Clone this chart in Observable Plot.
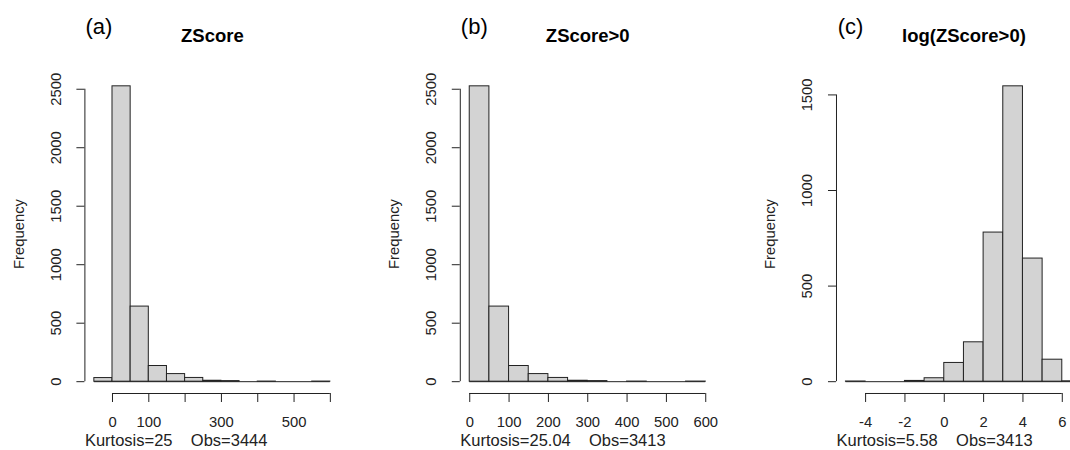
<!DOCTYPE html>
<html><head><meta charset="utf-8">
<script src="https://cdn.jsdelivr.net/npm/d3@7"></script>
<script src="https://cdn.jsdelivr.net/npm/@observablehq/plot@0.6"></script>
<style>
html,body{margin:0;padding:0;background:#fff;overflow:hidden;width:1070px;height:450px}
#wrap{position:relative;width:1070px;height:450px;overflow:hidden;background:#fff}
.panel{position:absolute;top:0}
.panel svg{max-width:none !important;display:block}
</style></head><body><div id="wrap"></div>
<script>
// ---- data ----
const panelLetters = ["(a)", "(b)", "(c)"];
const panelTitles = ["ZScore", "ZScore>0", "log(ZScore>0)"];
const kurtosis = ["25", "25.04", "5.58"];
const obs = [3444, 3413, 3413];

const breaksA = [-50, 0, 50, 100, 150, 200, 250, 300, 350, 400, 450, 500, 550, 600];
const countsA = [31, 2525, 642, 134, 65, 32, 8, 5, 0, 1, 0, 0, 1];
const breaksB = [0, 50, 100, 150, 200, 250, 300, 350, 400, 450, 500, 550, 600];
const countsB = [2525, 642, 134, 65, 32, 8, 5, 0, 1, 0, 0, 1];
const breaksC = [-5, -4, -3, -2, -1, 0, 1, 2, 3, 4, 5, 6, 7];
const countsC = [1, 0, 0, 4, 18, 98, 206, 780, 1545, 644, 115, 2];

const yTicksAB = [0, 500, 1000, 1500, 2000, 2500];
const yTicksC = [0, 500, 1000, 1500];
const xTicksA = [0, 100, 200, 300, 400, 500, 600];
const xLabelsA = ["0", "100", "", "300", "", "500", ""];
const xTicksB = [0, 100, 200, 300, 400, 500, 600];
const xLabelsB = ["0", "100", "200", "300", "400", "500", "600"];
const xTicksC = [-4, -2, 0, 2, 4, 6];
const xLabelsC = ["-4", "-2", "0", "2", "4", "6"];

// ---- layout ----
const panels = [
  {breaks: breaksA, counts: countsA, yTicks: yTicksAB, xTicks: xTicksA, xLabels: xLabelsA, left: 0, marginLeft: 84.4, marginRight: 20.7},
  {breaks: breaksB, counts: countsB, yTicks: yTicksAB, xTicks: xTicksB, xLabels: xLabelsB, left: 360, marginLeft: 99.8, marginRight: 5},
  {breaks: breaksC, counts: countsC, yTicks: yTicksC, xTicks: xTicksC, xLabels: xLabelsC, left: 720, marginLeft: 116, marginRight: 5}
];
const plotW = 254.9;
const ink = "#222";
const font = "'Liberation Sans', Arial, sans-serif";

const wrap = document.getElementById("wrap");
panels.forEach((p, k) => {
  const bins = p.counts.map((c, i) => ({x1: p.breaks[i], x2: p.breaks[i + 1], count: c}));
  const b0 = p.breaks[0], bN = p.breaks[p.breaks.length - 1];
  const r = bN - b0;
  const xDom = [b0 - 0.04 * r, bN + 0.04 * r];
  const ymax = d3.max(p.counts);
  const yDom = [-0.04 * ymax, 1.04 * ymax];
  const labelMap = new Map(p.xTicks.map((t, i) => [t, p.xLabels[i]]));
  const caption = `Kurtosis=${kurtosis[k]}\u00a0\u00a0\u00a0\u00a0Obs=${obs[k]}`;
  const W = p.marginLeft + plotW + p.marginRight;

  const svg = Plot.plot({
    width: W,
    height: 450,
    marginLeft: p.marginLeft,
    marginRight: p.marginRight,
    marginTop: 74,
    marginBottom: 57,
    x: {domain: xDom},
    y: {domain: yDom},
    style: {fontFamily: font, background: "transparent", overflow: "visible", color: ink, maxWidth: "none"},
    marks: [
      Plot.rectY(bins, {x1: "x1", x2: "x2", y1: () => 0, y2: "count", fill: "#d3d3d3", stroke: ink, strokeWidth: 1, inset: 0}),
      Plot.ruleY([0], {x1: () => b0, x2: () => bN, stroke: ink, strokeWidth: 1}),
      Plot.ruleX([xDom[0]], {y1: () => p.yTicks[0], y2: () => p.yTicks[p.yTicks.length - 1], stroke: ink, strokeWidth: 1}),
      Plot.ruleY([yDom[0]], {x1: () => p.xTicks[0], x2: () => p.xTicks[p.xTicks.length - 1], stroke: ink, strokeWidth: 1}),
      Plot.axisY({ticks: p.yTicks, tickSize: 8, tickFormat: () => "", label: null, stroke: ink}),
      Plot.text(p.yTicks, {x: () => xDom[0], y: d => d, text: d => String(d), rotate: -90, dx: -29, textAnchor: "middle", lineAnchor: "middle", fontSize: 14.8, fill: ink}),
      Plot.axisX({ticks: p.xTicks, tickSize: 9, tickPadding: 14, tickFormat: d => labelMap.get(d), label: null, fontSize: 14.8, stroke: ink, fill: ink}),
      Plot.text([panelTitles[k]], {frameAnchor: "top", dy: -38, lineAnchor: "middle", textAnchor: "middle", fontWeight: "bold", fontSize: 18.5, fill: "#000"}),
      Plot.text([panelLetters[k]], {frameAnchor: "top-left", dx: 14, dy: -48, textAnchor: "middle", lineAnchor: "middle", fontSize: 22, fill: "#000"}),
      Plot.text(["Frequency"], {frameAnchor: "left", dx: -66, rotate: -90, textAnchor: "middle", lineAnchor: "middle", fontSize: 14.8, fill: ink}),
      Plot.text([caption], {frameAnchor: "bottom-left", dy: 47, textAnchor: "start", lineAnchor: "middle", fontSize: 16.5, fill: ink})
    ]
  });
  svg.style.maxWidth = "none";
  svg.style.width = W + "px";
  svg.style.height = "450px";
  const div = document.createElement("div");
  div.className = "panel";
  div.style.left = p.left + "px";
  div.style.width = W + "px";
  div.appendChild(svg);
  wrap.appendChild(div);
});
</script>
</body></html>
